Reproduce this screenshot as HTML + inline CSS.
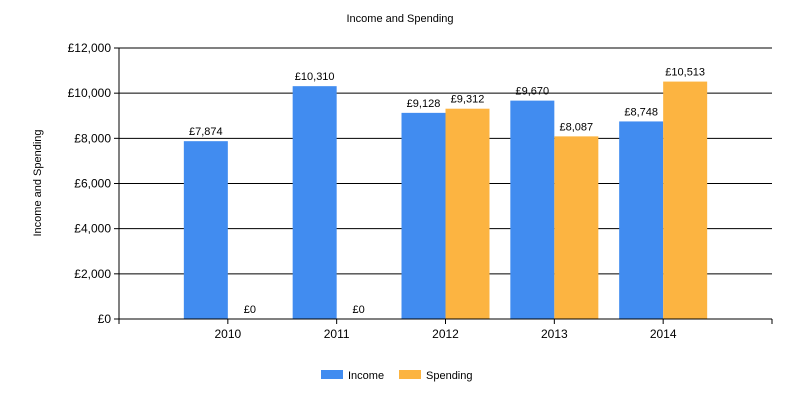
<!DOCTYPE html>
<html><head><meta charset="utf-8"><style>
body{margin:0;background:#fff;font-family:"Liberation Sans",sans-serif}
</style></head><body>
<svg id="c" width="800" height="400" style="display:block" font-family="Liberation Sans, sans-serif">
<text x="400" y="22" font-size="11" text-anchor="middle">Income and Spending</text>
<text transform="translate(41,183) rotate(-90)" font-size="11" text-anchor="middle">Income and Spending</text>
<g id="grid"></g><g id="bars"></g><g id="axes"></g>
<g>
<rect x="321" y="370" width="22" height="9" fill="#418cf0"/>
<text x="348" y="379" font-size="11">Income</text>
<rect x="399" y="370" width="22" height="9" fill="#fcb441"/>
<text x="426" y="379" font-size="11">Spending</text>
</g>
</svg>
<script>
const categories=["2010","2011","2012","2013","2014"];
const income=[7874,10310,9128,9670,8748];
const spending=[0,0,9312,8087,10513];
const yTicks=[0,2000,4000,6000,8000,10000,12000];
const NS="http://www.w3.org/2000/svg";
const L=119,R=772,T=48,B=319,YMAX=12000;
const slot=(R-L)/6;
const x=i=>L+slot*(i+1);
const y=v=>B-(v/YMAX)*(B-T);
function el(t,a,p,txt){const e=document.createElementNS(NS,t);for(const k in a)e.setAttribute(k,a[k]);if(txt!==undefined)e.textContent=txt;document.getElementById(p).appendChild(e);return e;}
const fmt=v=>"£"+v.toLocaleString("en-GB");
yTicks.forEach(v=>{
 if(v>0){const g=el("line",{x1:L,x2:R,y1:y(v),y2:y(v),stroke:"#000","stroke-width":1},"grid");
 
 }
 const tk=el("line",{x1:L-5,x2:L,y1:y(v),y2:y(v),stroke:"#000"},"axes");
 
 
 const t=el("text",{x:L-8,y:y(v)+4,"font-size":12,"text-anchor":"end"},"axes",fmt(v));
 
 
});
const bw=44;
categories.forEach((c,i)=>{
 const cx=x(i);
 [[income[i],"#418cf0",cx-bw,"income"],[spending[i],"#fcb441",cx,"spending"]].forEach(([v,col,bx,s])=>{
  const r=el("rect",{x:bx,y:y(v),width:bw,height:B-y(v),fill:col},"bars");
  
  
  const t=el("text",{x:bx+bw/2,y:y(v)-6,"font-size":11,"text-anchor":"middle"},"bars",fmt(v));
  
  
 });
 const t=el("text",{x:cx,y:B+19,"font-size":12,"text-anchor":"middle"},"axes",c);
 
 
});
for(let i=0;i<=6;i++){const tk=el("line",{x1:L+slot*i,x2:L+slot*i,y1:B,y2:B+5,stroke:"#000"},"axes");
 
 }
const ya=el("line",{x1:L,x2:L,y1:T,y2:B,stroke:"#000"},"axes");


const xa=el("line",{x1:L,x2:R,y1:B,y2:B,stroke:"#000"},"axes");


</script>
</body></html>
